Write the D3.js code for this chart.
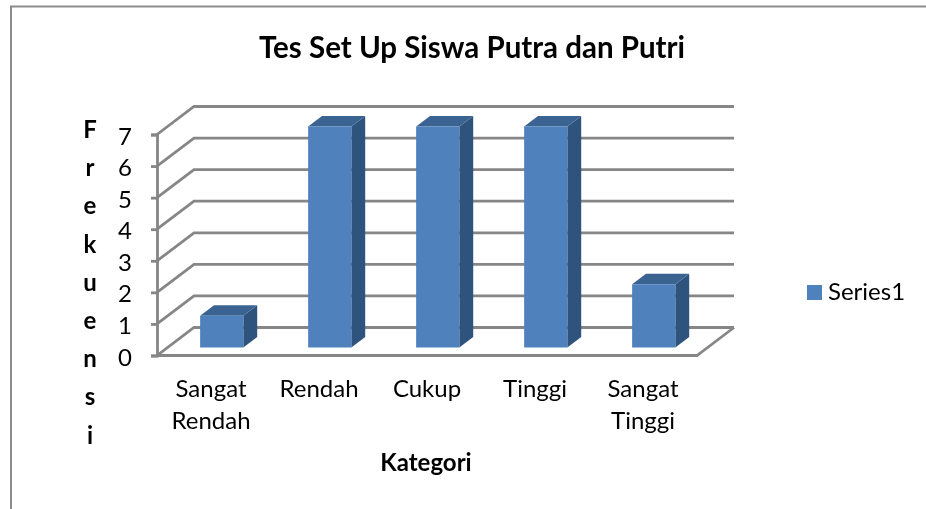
<!DOCTYPE html>
<html>
<head>
<meta charset="utf-8">
<script src="https://d3js.org/d3.v7.min.js"></script>
<style>
  html, body { margin: 0; padding: 0; background: #fff; }
  svg { display: block; }
  text { font-family: Lato, "Open Sans", sans-serif; fill: #000; }
</style>
</head>
<body>
<div id="chart"></div>
<script>
var categories = ["Sangat Rendah", "Rendah", "Cukup", "Tinggi", "Sangat Tinggi"];
var seriesValues = [1, 7, 7, 7, 2];
var yTicks = [0, 1, 2, 3, 4, 5, 6, 7];
var seriesName = "Series1";
var titleText = "Tes Set Up Siswa Putra dan Putri";
var xTitle = "Kategori";
var yTitle = "Frekuensi";

var width = 926, height = 509;
var depthX = 37, depthY = 28,      // how far the back wall is pushed
    barFront = 0.29, barBack = 0.665;

var x = d3.scaleBand().domain(categories).range([157, 697]).paddingInner(0.6).paddingOuter(0.3);
var y = d3.scaleLinear().domain([0, 7]).range([355.5, 134.5]);

// z goes from 0 (front of the floor) to 1 (back wall)
function px(v, z) { return v + z * depthX; }
function py(v, z) { return y(v) - z * depthY; }

var svg = d3.select("#chart").append("svg")
  .attr("width", width)
  .attr("height", height);

var defs = svg.append("defs");
defs.append("filter").attr("id", "soft")
  .append("feGaussianBlur").attr("stdDeviation", 0.5);

// chart frame, only top and left are in the picture
svg.append("path")
  .attr("d", d3.line()([[11, height], [11, 6.5], [width, 6.5]]))
  .attr("fill", "none")
  .attr("stroke", "#8c8c8c")
  .attr("stroke-width", 2);

var plot = svg.append("g").attr("filter", "url(#soft)");

var gridColor = "#868686", gridWidth = 2.8;

// back wall lines and the diagonals on the side wall
var grid = plot.append("g").attr("fill", "none").attr("stroke", gridColor).attr("stroke-width", gridWidth);
grid.selectAll("path")
  .data(yTicks)
  .enter()
  .append("path")
  .attr("d", function(d) {
    return d3.line()([[px(157, 0), py(d, 0)], [px(157, 1), py(d, 1)], [px(697, 1), py(d, 1)]]);
  });

// floor
grid.append("path")
  .attr("d", d3.line()([[px(157, 0), py(0, 0)], [px(697, 0), py(0, 0)], [px(697, 1), py(0, 1)]]));

// y axis with its ticks
var yAxis = plot.append("g")
  .attr("transform", "translate(157,0)")
  .call(d3.axisLeft(y).tickValues(yTicks).tickSize(6).tickPadding(19).tickFormat(d3.format("d")));
yAxis.selectAll("path, line").attr("stroke", gridColor).attr("stroke-width", gridWidth);
yAxis.selectAll("text")
  .attr("dy", "0.4em")
  .style("font-size", "24px");

// bars: side, top, front
var bars = plot.append("g").selectAll("g")
  .data(categories)
  .enter()
  .append("g");

function poly(pts) { return d3.line()(pts) + "Z"; }

bars.append("path")
  .attr("fill", "#2f527d")
  .attr("d", function(d, i) {
    var r = x(d) + x.bandwidth(), v = seriesValues[i];
    return poly([[px(r, barFront), py(0, barFront)], [px(r, barBack), py(0, barBack)],
                 [px(r, barBack), py(v, barBack)], [px(r, barFront), py(v, barFront)]]);
  });

bars.append("path")
  .attr("fill", "#3a6391")
  .attr("d", function(d, i) {
    var l = x(d), r = l + x.bandwidth(), v = seriesValues[i];
    return poly([[px(l, barFront), py(v, barFront)], [px(r, barFront), py(v, barFront)],
                 [px(r, barBack), py(v, barBack)], [px(l, barBack), py(v, barBack)]]);
  });

bars.append("path")
  .attr("fill", "#4f81bd")
  .attr("d", function(d, i) {
    var l = x(d), r = l + x.bandwidth(), v = seriesValues[i];
    return poly([[px(l, barFront), py(0, barFront)], [px(r, barFront), py(0, barFront)],
                 [px(r, barFront), py(v, barFront)], [px(l, barFront), py(v, barFront)]]);
  });

// category labels, wrapped on the space like the original
var xAxis = svg.append("g")
  .attr("transform", "translate(0,355)")
  .call(d3.axisBottom(x).tickSize(0).tickFormat(""));
xAxis.select(".domain").remove();
xAxis.selectAll(".tick").each(function(d) {
  var t = d3.select(this).select("text")
    .attr("y", 0).attr("dy", null)
    .style("font-size", "24px");
  d.split(" ").forEach(function(word, i) {
    t.append("tspan").attr("x", 0).attr("y", 42 + i * 31.5).text(word);
  });
});

// title
svg.append("text")
  .attr("x", 472).attr("y", 58)
  .attr("text-anchor", "middle")
  .style("font-size", "29.5px").style("font-weight", 700)
  .text(titleText);

// axis titles
svg.append("text")
  .attr("x", 426).attr("y", 471)
  .attr("text-anchor", "middle")
  .style("font-size", "24px").style("font-weight", 700)
  .text(xTitle);

svg.append("g").selectAll("text")
  .data(yTitle.split(""))
  .enter()
  .append("text")
  .attr("x", 90)
  .attr("y", function(d, i) { return 138 + i * 38.2; })
  .attr("text-anchor", "middle")
  .style("font-size", "24px").style("font-weight", 700)
  .text(function(d) { return d; });

// legend
svg.append("rect")
  .attr("x", 807).attr("y", 285).attr("width", 15).attr("height", 15)
  .attr("fill", "#4f81bd");
svg.append("text")
  .attr("x", 828).attr("y", 299.5)
  .style("font-size", "24px")
  .text(seriesName);
</script>
</body>
</html>
